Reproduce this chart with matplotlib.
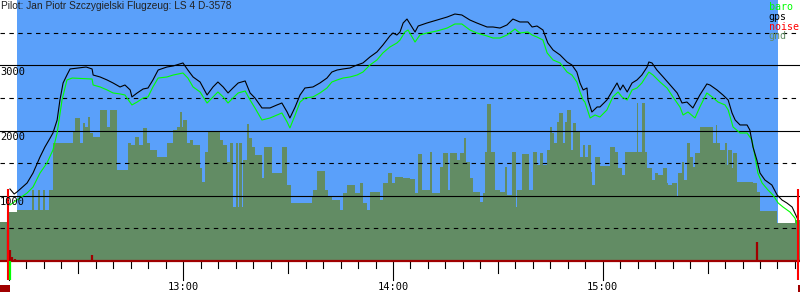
import numpy as np
import matplotlib
matplotlib.use('Agg')
from matplotlib import pyplot as plt

title = 'Pilot: Jan Piotr Szczygielski Flugzeug: LS 4 D-3578'

# times are minutes after 12:00, altitudes in ft
takeoff, landing = 12.4, 230.2
rec_start, rec_end = 9.9, 235.9

gps_t = [10.4, 11.6, 12.4, 15.3, 17.0, 19.0, 20.4, 21.9, 22.7, 23.9,
         24.7, 25.6, 26.7, 27.6, 29.9, 32.2, 33.9, 34.2, 36.2, 38.2,
         39.9, 41.9, 43.3, 44.8, 45.3, 46.8, 48.5, 49.9, 51.3, 52.8,
         55.3, 57.1, 59.9, 61.3, 62.8, 64.8, 66.8, 68.5, 69.9, 71.4,
         72.8, 74.2, 75.7, 77.7, 79.1, 80.5, 82.5, 84.8, 86.8, 88.2,
         89.7, 90.5, 92.0, 93.4, 94.8, 97.1, 99.1, 101.1, 102.5, 104.0,
         105.7, 107.7, 109.7, 111.4, 113.4, 115.4, 117.1, 119.1, 120.0, 121.1,
         122.0, 122.9, 124.0, 125.4, 126.3, 127.2, 129.7, 132.6, 135.5, 137.7,
         139.7, 142.0, 144.0, 146.9, 148.6, 150.6, 152.6, 154.3, 156.3, 158.6,
         159.8, 161.2, 162.9, 164.3, 165.8, 167.8, 169.8, 171.2, 172.6, 173.5,
         174.4, 175.5, 175.8, 176.9, 178.4, 179.2, 181.2, 182.9, 184.1, 185.0,
         185.8, 187.0, 188.4, 189.8, 191.2, 192.7, 193.2, 194.1, 195.5, 197.3,
         199.3, 201.3, 202.7, 204.1, 205.8, 207.8, 209.8, 210.7, 212.7, 214.4,
         215.9, 217.0, 217.9, 219.3, 221.3, 222.1, 223.0, 224.1, 225.0, 226.4,
         228.4, 229.9, 231.3, 232.7, 234.2, 235.0, 235.9]
gps_alt = [1103, 1026, 1057, 1195, 1348, 1594, 1747, 1885, 1962, 2161,
           2468, 2729, 2851, 2944, 2959, 2974, 2944, 2851, 2821, 2775,
           2729, 2668, 2698, 2622, 2515, 2576, 2637, 2652, 2775, 2928,
           2974, 2990, 3036, 2928, 2821, 2744, 2545, 2668, 2744, 2668,
           2576, 2652, 2729, 2760, 2576, 2499, 2346, 2346, 2392, 2422,
           2284, 2192, 2361, 2545, 2652, 2668, 2729, 2805, 2897, 2928,
           2944, 2959, 3005, 3036, 3128, 3205, 3311, 3450, 3496, 3465,
           3511, 3649, 3710, 3588, 3511, 3603, 3649, 3695, 3741, 3787,
           3772, 3695, 3649, 3588, 3588, 3572, 3619, 3710, 3665, 3665,
           3588, 3603, 3542, 3342, 3235, 3159, 3051, 3005, 2897, 2729,
           2622, 2652, 2468, 2284, 2361, 2361, 2468, 2622, 2729, 2622,
           2698, 2591, 2729, 2775, 2851, 2974, 3051, 3036, 2928, 2821,
           2698, 2576, 2422, 2437, 2346, 2545, 2714, 2698, 2622, 2545,
           2468, 2269, 2161, 2085, 2085, 2008, 1747, 1548, 1348, 1241,
           1164, 1011, 934, 888, 826, 734, 627]

baro_t = [10.4, 12.4, 15.3, 17.0, 19.0, 21.0, 22.7, 23.9, 25.3, 26.7,
          28.2, 33.9, 34.2, 36.2, 38.2, 39.9, 41.9, 43.3, 45.3, 46.8,
          48.5, 49.9, 51.3, 52.8, 55.3, 57.1, 59.9, 61.3, 62.8, 64.8,
          66.8, 68.5, 69.9, 71.4, 72.8, 74.2, 75.7, 77.7, 79.1, 80.5,
          82.5, 84.8, 86.8, 88.2, 89.7, 90.5, 92.0, 93.4, 94.8, 97.1,
          99.1, 101.1, 102.5, 104.0, 105.7, 107.7, 109.7, 111.4, 113.4, 115.4,
          117.1, 119.1, 121.1, 122.0, 123.4, 124.3, 126.3, 127.7, 129.7, 132.6,
          135.5, 137.7, 139.7, 142.0, 144.0, 146.9, 148.6, 150.6, 152.6, 154.9,
          156.3, 158.6, 159.8, 161.2, 162.9, 164.1, 165.8, 167.8, 169.8, 171.2,
          172.6, 173.5, 174.4, 174.9, 176.4, 177.8, 179.2, 181.2, 182.9, 184.4,
          185.5, 187.0, 188.4, 189.8, 191.2, 193.2, 194.4, 196.4, 198.4, 200.1,
          202.1, 203.0, 204.4, 206.4, 207.8, 209.8, 211.3, 213.0, 215.0, 215.9,
          217.3, 219.3, 221.3, 222.7, 223.6, 224.4, 225.6, 227.3, 228.7, 230.2,
          231.6, 233.6, 235.0, 235.9]
baro_alt = [857, 934, 1041, 1133, 1348, 1502, 1701, 1962, 2468, 2775,
            2805, 2790, 2698, 2668, 2622, 2576, 2561, 2545, 2392, 2437,
            2499, 2515, 2668, 2805, 2821, 2851, 2882, 2805, 2668, 2591,
            2422, 2515, 2591, 2515, 2422, 2499, 2576, 2606, 2468, 2346,
            2161, 2192, 2238, 2269, 2131, 2039, 2238, 2437, 2499, 2515,
            2576, 2652, 2744, 2775, 2805, 2821, 2851, 2897, 3005, 3082,
            3190, 3281, 3342, 3388, 3511, 3542, 3357, 3465, 3496, 3527,
            3572, 3634, 3634, 3542, 3496, 3450, 3419, 3419, 3465, 3557,
            3496, 3511, 3465, 3434, 3388, 3190, 3082, 3036, 2897, 2851,
            2744, 2591, 2468, 2437, 2192, 2238, 2207, 2315, 2515, 2591,
            2515, 2468, 2622, 2652, 2729, 2897, 2851, 2744, 2652, 2515,
            2361, 2238, 2284, 2192, 2361, 2576, 2515, 2437, 2392, 2315,
            2054, 1962, 1962, 1855, 1594, 1348, 1195, 1087, 1011, 888,
            826, 749, 657, 519]

gnd_t = [7.6, 9.8, 12.4, 16.7, 17.3, 18.4, 19.0, 19.9, 20.4, 21.6,
         22.7, 28.4, 29.0, 30.4, 31.3, 31.9, 32.7, 33.3, 34.2, 36.2,
         38.2, 39.0, 41.0, 44.2, 45.0, 46.2, 47.3, 48.5, 49.6, 50.5,
         52.5, 55.3, 57.1, 58.2, 59.1, 59.6, 59.9, 61.1, 61.9, 62.8,
         64.8, 65.4, 66.2, 67.1, 70.5, 71.4, 72.5, 73.4, 74.2, 75.1,
         75.7, 75.9, 76.8, 77.1, 78.2, 78.8, 79.7, 80.5, 82.5, 83.1,
         85.4, 88.2, 89.7, 90.8, 96.8, 97.1, 98.3, 100.5, 101.4, 102.5,
         104.8, 105.7, 106.8, 109.1, 110.6, 111.4, 112.6, 113.4, 116.3, 117.1,
         118.6, 119.7, 120.6, 122.9, 124.9, 126.3, 127.2, 128.3, 130.6, 131.2,
         133.4, 134.3, 135.7, 136.3, 138.3, 139.2, 140.3, 140.9, 142.0, 142.9,
         144.9, 145.7, 146.3, 146.9, 148.0, 149.2, 150.6, 152.0, 152.6, 154.0,
         155.2, 155.5, 156.9, 158.9, 160.1, 161.2, 162.1, 162.9, 164.1, 164.9,
         165.5, 166.1, 166.9, 167.5, 168.6, 169.2, 169.8, 170.9, 171.5, 172.4,
         173.5, 174.4, 174.9, 175.8, 176.6, 176.9, 177.8, 179.2, 182.1, 183.5,
         184.4, 185.5, 186.4, 189.8, 190.1, 191.2, 192.1, 192.7, 194.1, 195.0,
         195.8, 197.3, 198.4, 198.7, 199.8, 201.3, 201.5, 202.7, 203.3, 204.1,
         205.0, 205.8, 206.4, 207.8, 211.6, 212.4, 212.7, 213.6, 215.0, 215.6,
         215.8, 217.0, 217.3, 218.4, 223.0, 224.1, 225.0, 229.9, 235.0, 236.4]
gnd_alt = [597, 750, 781, 1087, 781, 1087, 781, 1087, 781, 1087,
           1809, 1978, 2192, 1809, 2116, 2054, 2207, 1962, 1901, 2315,
           2054, 2315, 1394, 1809, 1778, 1901, 1778, 2039, 1809, 1701,
           1594, 1809, 2008, 2054, 2284, 2054, 2161, 1809, 1855, 1778,
           1425, 1210, 1670, 1993, 1855, 1778, 1517, 1809, 826, 1809,
           826, 1809, 826, 1547, 2100, 1886, 1747, 1624, 1272, 1747,
           1348, 1747, 1164, 888, 980, 1087, 1379, 1087, 980, 934,
           781, 1041, 1164, 1041, 1195, 888, 781, 1057, 934, 1195,
           1348, 1195, 1287, 1272, 1256, 1041, 1640, 1087, 1670, 1041,
           1440, 1655, 1087, 1655, 1547, 1655, 1886, 1517, 1272, 1057,
           903, 1041, 1670, 2407, 1670, 1087, 1057, 1440, 1011, 1670,
           826, 1087, 1640, 1087, 1670, 1471, 1655, 1471, 1701, 2054,
           1962, 1809, 2131, 2269, 1809, 2131, 2315, 1701, 2116, 1978,
           1594, 1778, 1594, 1778, 1363, 1164, 1594, 1456, 1747, 1670,
           1425, 1318, 1670, 2422, 1670, 2422, 1670, 1425, 1241, 1348,
           1318, 1425, 1195, 1164, 1195, 980, 1348, 1517, 1241, 1809,
           1594, 1440, 1655, 2054, 1809, 2085, 1809, 1701, 1809, 1471,
           1701, 1425, 1655, 1210, 1195, 1057, 765, 580, 627, 627]

noise_t = [9.9, 10.5, 11.1, 11.7, 33.8, 224.1]
noise_val = [470, 170, 60, 30, 90, 290]

grid_solid = [1000, 2000, 3000]
grid_dash = [500, 1500, 2500, 3500]
legend_names = ['baro', 'gps', 'noise', 'gnd']

sky = '#5aa0fa'
gnd_col = '#628c64'
baro_col = '#00ff00'
noise_col = '#ff0000'
noise_dark = '#a00000'
mono = 'DejaVu Sans Mono'

fig = plt.figure(figsize=(8, 3), dpi=100)
ax = fig.add_axes([0, 0, 1, 1])
x0, x1 = 7.55, 236.45
ax.set_xlim(x0, x1)
ax.set_ylim(-600, 4002)
ax.axis('off')

ax.fill_between([takeoff, landing], 0, 4100, color=sky, lw=0, zorder=0)
ax.fill_between(gnd_t, 0, gnd_alt, step='post', color=gnd_col, lw=0, zorder=1)

for h in grid_solid:
    ax.axhline(h, color='black', lw=0.8, zorder=2)
for h in grid_dash:
    ax.axhline(h, color='black', lw=0.8, ls=(0, (4, 4)), zorder=2)

ax.plot(baro_t, baro_alt, color=baro_col, lw=0.8, zorder=3)
ax.plot(gps_t, gps_alt, color='black', lw=0.8, zorder=4)

# noise
ax.vlines(noise_t, 0, noise_val, color=noise_dark, lw=1.6, zorder=5)
ax.axhline(0, color=noise_dark, lw=1.6, zorder=5)
ax.vlines([rec_start, rec_end], -290, 1100, color=noise_col, lw=1.5, zorder=6)
ax.vlines(baro_t[0], -290, 0, color=baro_col, lw=1.6, zorder=6)
ax.fill_between([x0, rec_start + 0.5], -475, -370, color=noise_dark, lw=0)
ax.fill_between([rec_end, x1], -475, -370, color=noise_dark, lw=0)

# time axis
for m in np.arange(10, 236, 5):
    if m % 60 == 0 or m == 10:
        low = -290
    elif m % 30 == 0:
        low = -185
    else:
        low = -110
    ax.plot([m, m], [0, low], color='black', lw=0.8, zorder=4)
for m in (60, 120, 180):
    ax.text(m, -400, '%d:00' % (12 + m // 60), ha='center', va='center',
            fontsize=7.5, family=mono)

for h in grid_solid:
    ax.text(x0, h - 95, str(h), ha='left', va='center', fontsize=7.5,
            family=mono, zorder=7)

fig.text(0.001, 0.998, title, ha='left', va='top', fontsize=7.25,
         family='Liberation Sans', color='#222222')

leg_cols = [baro_col, 'black', noise_col, gnd_col]
for i, (name, c) in enumerate(zip(legend_names, leg_cols)):
    fig.text(0.961, 1 - (10 + 9.8 * i) / 300, name, ha='left', va='baseline',
             fontsize=7.2, family=mono, color=c)

fig.savefig('out.png', dpi=100, facecolor='white')
